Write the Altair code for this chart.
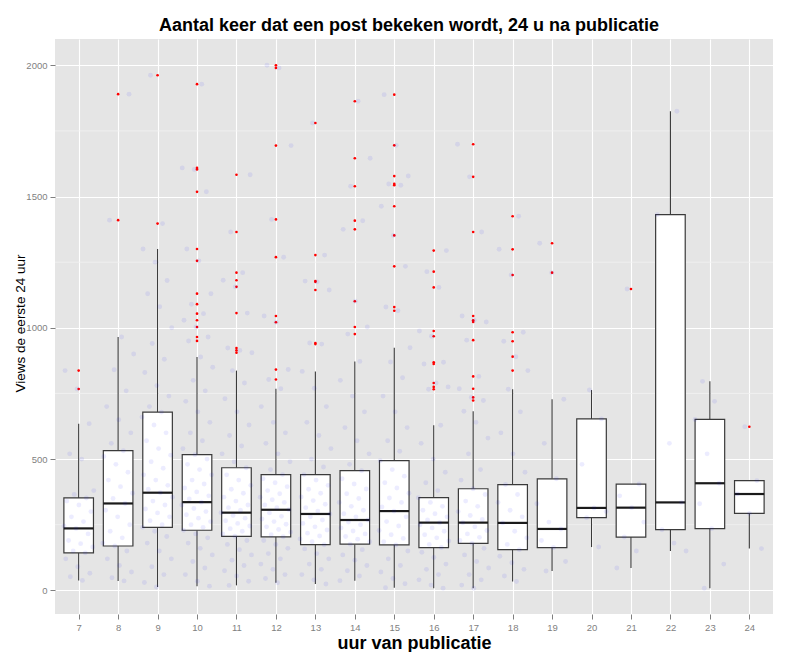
import altair as alt
import pandas as pd

FONT = "Liberation Sans"

# ---- boxplot statistics per hour ----
hours = list(range(7, 25))
lower = [38, 36, 13, 16, 19, 29, 24, 37, 10, 8, 8, 34, 74, 165, 85, 150, 8, 159]
q1 = [143, 169, 240, 229, 206, 204, 174, 176, 173, 163, 179, 155, 163, 277, 203, 231, 235, 293]
median = [236, 331, 372, 336, 296, 307, 291, 268, 302, 258, 258, 257, 234, 314, 315, 335, 408, 367]
q3 = [352, 532, 679, 517, 467, 441, 441, 456, 494, 353, 387, 403, 425, 653, 405, 1431, 651, 418]
upper = [635, 965, 1300, 889, 837, 768, 834, 872, 924, 629, 682, 766, 728, 763, 405, 1825, 796, 418]

# ---- outliers (red) ----
out_07 = [767, 837]
out_08 = [1410, 1890]
out_09 = [1397, 1962]
out_10 = [950, 965, 1003, 1029, 1054, 1090, 1130, 1255, 1300, 1518, 1603, 1609, 1928]
out_11 = [905, 914, 923, 1056, 1156, 1181, 1210, 1365, 1583]
out_12 = [803, 841, 1021, 1045, 1269, 1413, 1694, 1990, 2000]
out_13 = [938, 942, 1144, 1175, 1178, 1277, 1780]
out_14 = [976, 1003, 1101, 1375, 1408, 1539, 1646, 1863]
out_15 = [1065, 1079, 1234, 1352, 1463, 1543, 1548, 1578, 1695, 1888]
out_16 = [766, 775, 790, 862, 869, 968, 988, 1154, 1214, 1294]
out_17 = [723, 735, 768, 815, 953, 1022, 1029, 1045, 1365, 1575, 1699]
out_18 = [837, 890, 949, 983, 1201, 1299, 1425]
out_19 = [1210, 1322]
out_20 = []
out_21 = [1148]
out_22 = []
out_23 = []
out_24 = [623]

# ---- individual (jittered) observations, approximate ----
pts_07 = [38, 52, 65, 90, 120, 143, 150, 165, 178, 190, 215, 236, 245, 262, 280, 300, 325, 340, 352, 365, 380, 500, 520, 635]
pts_08 = [36, 48, 70, 95, 120, 150, 169, 180, 200, 225, 250, 280, 305, 331, 350, 370, 395, 420, 450, 480, 510, 532, 560, 600, 650, 700, 760, 840, 900, 965]
pts_09 = [13, 30, 60, 90, 120, 150, 180, 205, 225, 240, 250, 265, 280, 295, 310, 325, 340, 355, 372, 385, 400, 420, 440, 465, 490, 515, 540, 570, 600, 630, 660, 679, 700, 740, 780, 830, 880, 940, 1000, 1080, 1130, 1180, 1250, 1300]
pts_10 = [16, 35, 60, 85, 110, 135, 160, 180, 200, 215, 229, 240, 250, 262, 275, 288, 300, 312, 325, 336, 348, 360, 375, 390, 405, 420, 440, 460, 480, 500, 517, 540, 570, 600, 640, 680, 720, 760, 800, 850, 889]
pts_11 = [19, 35, 55, 75, 95, 115, 135, 155, 175, 190, 206, 215, 225, 235, 245, 255, 265, 275, 285, 296, 305, 315, 325, 340, 355, 370, 385, 400, 420, 440, 467, 490, 520, 550, 590, 630, 680, 730, 790, 837]
pts_12 = [29, 45, 60, 80, 100, 120, 140, 160, 175, 190, 204, 212, 222, 232, 242, 252, 262, 272, 282, 295, 307, 315, 325, 335, 345, 355, 368, 380, 395, 410, 425, 441, 460, 490, 520, 560, 600, 640, 700, 768]
pts_13 = [24, 40, 60, 80, 100, 120, 140, 158, 174, 185, 196, 207, 218, 230, 242, 255, 268, 280, 291, 302, 315, 328, 342, 356, 370, 385, 400, 420, 441, 470, 500, 540, 590, 640, 700, 770, 834]
pts_14 = [37, 55, 75, 95, 115, 135, 155, 176, 185, 195, 205, 215, 226, 238, 250, 260, 268, 280, 292, 305, 320, 335, 350, 368, 386, 405, 425, 456, 480, 520, 570, 620, 680, 740, 800, 872]
pts_15 = [10, 25, 45, 70, 95, 120, 150, 173, 185, 198, 212, 228, 245, 262, 280, 302, 318, 335, 352, 370, 390, 410, 435, 460, 494, 530, 570, 620, 680, 740, 810, 870, 924]
pts_16 = [8, 20, 40, 60, 80, 100, 125, 145, 163, 175, 188, 200, 212, 225, 238, 250, 258, 268, 280, 292, 305, 320, 335, 353, 380, 410, 450, 500, 560, 629]
pts_17 = [8, 20, 40, 60, 85, 110, 135, 160, 179, 190, 202, 215, 228, 242, 258, 270, 285, 300, 320, 340, 365, 387, 420, 460, 520, 580, 640, 682]
pts_18 = [34, 55, 80, 105, 130, 155, 175, 200, 225, 257, 280, 305, 335, 365, 403, 450, 520, 600, 680, 766]
pts_19 = [74, 110, 163, 190, 234, 260, 330, 425, 560, 728]
pts_20 = [165, 277, 300, 314, 480, 653, 763]
pts_21 = [85, 150, 203, 260, 315, 360, 405]
pts_22 = [150, 180, 231, 335, 560, 1431, 1825]
pts_23 = [8, 100, 235, 330, 408, 520, 651, 720, 796]
pts_24 = [159, 293, 367, 418]

minor_breaks = [250, 750, 1250, 1750]
major_breaks = [0, 500, 1000, 1500, 2000]

outs = [out_07, out_08, out_09, out_10, out_11, out_12, out_13, out_14, out_15,
        out_16, out_17, out_18, out_19, out_20, out_21, out_22, out_23, out_24]
pts = [pts_07, pts_08, pts_09, pts_10, pts_11, pts_12, pts_13, pts_14, pts_15,
       pts_16, pts_17, pts_18, pts_19, pts_20, pts_21, pts_22, pts_23, pts_24]

box_df = pd.DataFrame({"hour": hours, "lower": lower, "q1": q1, "median": median,
                       "q3": q3, "upper": upper})
out_df = pd.DataFrame([{"hour": h, "views": v} for h, lst in zip(hours, outs) for v in lst])
pt_df = pd.DataFrame([{"hour": h, "views": v} for h, lst, o in zip(hours, pts, outs) for v in lst + o])
minor_df = pd.DataFrame({"y": minor_breaks})

xscale = alt.Scale(domain=[6.4, 24.6], nice=False, zero=False)
yscale = alt.Scale(domain=[-90, 2100], nice=False, zero=False)

xaxis = alt.Axis(values=hours, format="d", title="uur van publicatie",
                 grid=True, gridColor="white", gridWidth=1.1,
                 ticks=True, tickColor="#7f7f7f", tickSize=5, tickWidth=1,
                 labelColor="#7f7f7f", labelFontSize=9.5, labelFont=FONT, labelPadding=3,
                 domain=False, titleFont=FONT, titleFontSize=18, titleFontWeight="bold",
                 titleColor="black", titleY=34, titleBaseline="alphabetic")
yaxis = alt.Axis(values=major_breaks, format="d", title="Views de eerste 24 uur",
                 grid=True, gridColor="white", gridWidth=1.1,
                 ticks=True, tickColor="#7f7f7f", tickSize=5, tickWidth=1,
                 labelColor="#7f7f7f", labelFontSize=9.5, labelFont=FONT, labelPadding=3,
                 domain=False, titleFont=FONT, titleFontSize=13.5, titleFontWeight="normal",
                 titleColor="black", titleX=-35, titleY=284, titleAngle=-90,
                 titleAlign="center", titleBaseline="middle")

X = lambda f: alt.X(f, type="quantitative", scale=xscale, axis=xaxis)
Y = lambda f: alt.Y(f, type="quantitative", scale=yscale, axis=yaxis)

minor = alt.Chart(minor_df).mark_rule(color="#F2F2F2", strokeWidth=0.8).encode(y=Y("y"))

base = alt.Chart(box_df).transform_calculate(
    xl="datum.hour - 0.375", xr="datum.hour + 0.375")

wlow = base.mark_rule(color="#3a3a3a", strokeWidth=1.1).encode(x=X("hour"), y=Y("lower"), y2="q1")
whigh = base.mark_rule(color="#3a3a3a", strokeWidth=1.1).encode(x=X("hour"), y=Y("q3"), y2="upper")
boxes = base.mark_rect(fill="white", stroke="#3a3a3a", strokeWidth=1.2).encode(
    x=X("xl"), x2="xr", y=Y("q1"), y2="q3")
meds = base.mark_rule(color="#1a1a1a", strokeWidth=2.2).encode(
    x=X("xl"), x2="xr", y=Y("median"))

outl = alt.Chart(out_df).mark_circle(color="#FF0000", size=7, opacity=1).encode(
    x=X("hour"), y=Y("views"))

jit = alt.Chart(pt_df).transform_window(rn="row_number()").transform_calculate(
    xj="datum.hour + (((datum.rn * 0.618034) % 1) - 0.5) * 0.8"
).mark_circle(color="#0000FF", size=24, opacity=0.075).encode(
    x=X("xj"), y=Y("views"))

chart = alt.layer(minor, wlow, whigh, boxes, meds, outl, jit).properties(
    width=718, height=575,
    autosize=alt.AutoSizeParams(type="none"),
    padding={"left": 47, "top": 31, "right": 10, "bottom": 38},
    title=alt.TitleParams("Aantal keer dat een post bekeken wordt, 24 u na publicatie",
                          font=FONT, fontSize=18, fontWeight="bold", color="black",
                          anchor="middle", baseline="alphabetic", offset=10, dx=-5, dy=20),
).configure_view(fill="#E5E5E5", strokeWidth=0)

chart.save("out.html", embed_options={"renderer": "svg", "actions": False})
